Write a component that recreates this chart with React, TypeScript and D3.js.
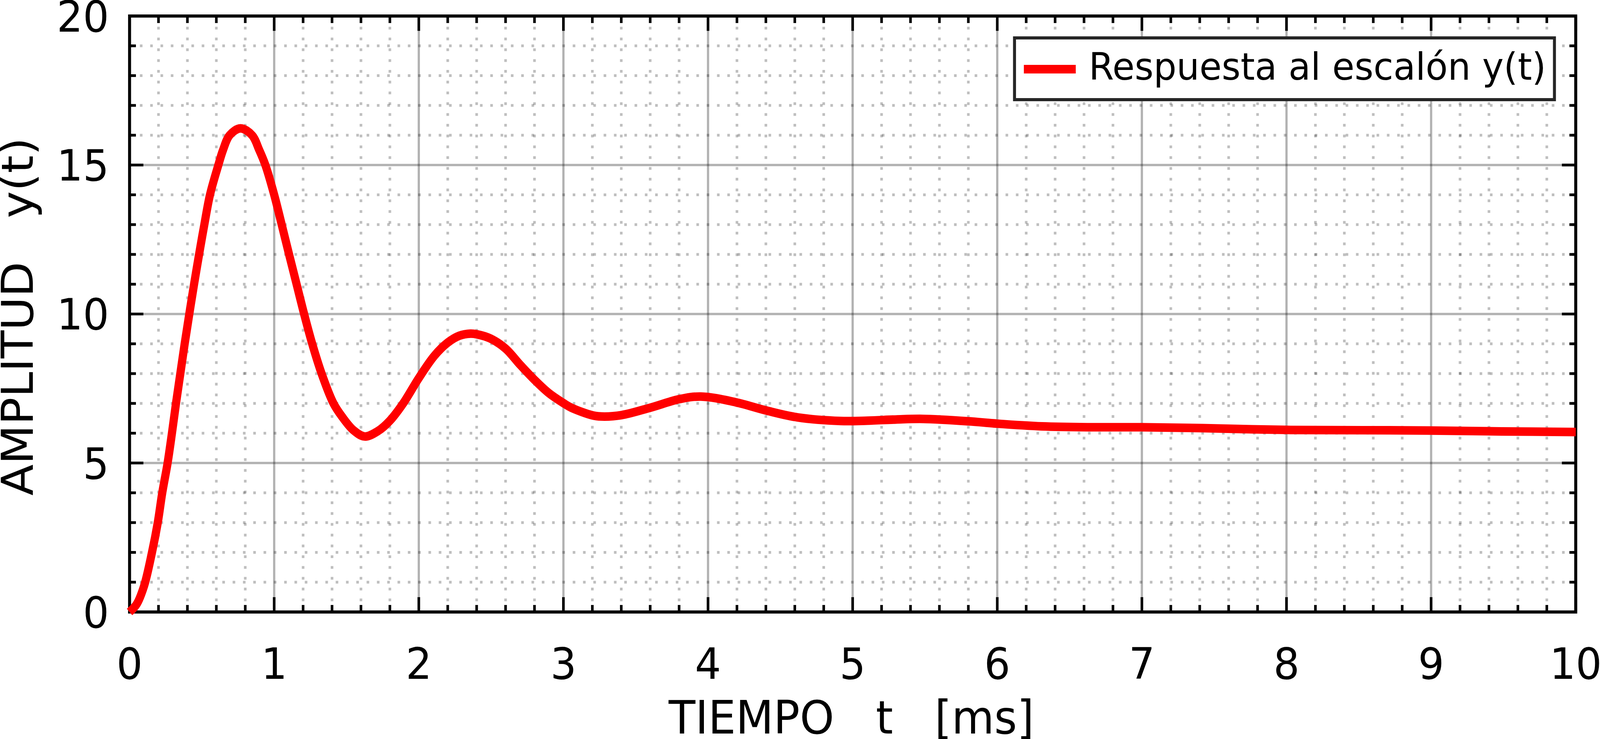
import React, { useEffect } from "react";
import * as d3 from "d3";

// ---- data ----
const tValues = [0, 0.05, 0.1, 0.155, 0.195, 0.226, 0.263, 0.293, 0.321, 0.351, 0.381, 0.413, 0.446, 0.486, 0.517, 0.556, 0.614, 0.646, 0.692, 0.767, 0.847, 0.897, 0.939, 1.0, 1.052, 1.103, 1.155, 1.207, 1.263, 1.328, 1.41, 1.47, 1.548, 1.626, 1.72, 1.8, 1.892, 2.0, 2.108, 2.2, 2.28, 2.357, 2.4, 2.494, 2.6, 2.7, 2.8, 2.898, 3.0, 3.053, 3.2, 3.265, 3.4, 3.6, 3.8, 3.95, 4.19, 4.404, 4.62, 4.917, 5.1, 5.3, 5.486, 5.8, 6.0, 6.31, 6.63, 7.0, 7.42, 8.0, 8.53, 9.0, 9.49, 10.0];
const yValues = [0, 0.27, 0.87, 2, 3, 4, 5, 6, 7, 8, 9, 10, 11, 12.15, 13, 14, 15, 15.5, 16, 16.23, 16, 15.5, 15, 14, 13, 12, 11, 10, 9, 8, 7, 6.55, 6.1, 5.89, 6.08, 6.42, 7.0, 7.85, 8.6, 9.04, 9.27, 9.34, 9.32, 9.18, 8.84, 8.3, 7.79, 7.35, 7.01, 6.86, 6.6, 6.56, 6.605, 6.855, 7.14, 7.23, 7.04, 6.76, 6.53, 6.41, 6.42, 6.46, 6.48, 6.4, 6.32, 6.23, 6.2, 6.2, 6.17, 6.11, 6.1, 6.09, 6.06, 6.04];

const xMajorTicks = [0, 1, 2, 3, 4, 5, 6, 7, 8, 9, 10];
const yMajorTicks = [0, 5, 10, 15, 20];
const xMinorStep = 0.2;
const yMinorStep = 1;

const legendLabel = "Respuesta al escalón y(t)";
const xTitle = "TIEMPO   t   [ms]";
const yTitle = "AMPLITUD   y(t)";

const W = 4285;
const H = 1891;
const FONT = "'DejaVu Sans', sans-serif";

export default function App() {
  useEffect(() => {
    document.body.style.margin = "0";
    document.body.style.overflow = "hidden";
  }, []);

  const x = d3.scaleLinear().domain([0, 10]).range([347, 4220]);
  const y = d3.scaleLinear().domain([0, 20]).range([1566, 41]);

  const xMinor = d3.range(0, 10 + 1e-9, xMinorStep).filter((v) => Math.abs(v - Math.round(v)) > 1e-6);
  const yMinor = d3.range(0, 20 + 1e-9, yMinorStep).filter((v) => Math.round(v) % 5 !== 0);

  const pts = tValues.map((t, i) => [t, yValues[i]] as [number, number]);
  const line = d3
    .line<[number, number]>()
    .x((d) => x(d[0]))
    .y((d) => y(d[1]))
    .curve(d3.curveCatmullRom.alpha(0.5));

  const [x0, x1] = x.range();
  const [yb, yt] = y.range();

  const gridMinor = "rgba(0,0,0,0.25)";
  const gridMajor = "rgba(0,0,0,0.3)";

  return (
    <svg
      viewBox={`0 0 ${W} ${H}`}
      preserveAspectRatio="none"
      style={{ position: "fixed", left: 0, top: 0, width: "100vw", height: "100vh", display: "block", background: "#fff" }}
    >
      <rect x={0} y={0} width={W} height={H} fill="#fff" />
      {/* minor grid */}
      {xMinor.map((v) => (
        <line key={"gx" + v} x1={x(v)} x2={x(v)} y1={yb} y2={yt} stroke={gridMinor} strokeWidth={7} strokeDasharray="7 20.6" />
      ))}
      {yMinor.map((v) => (
        <line key={"gy" + v} x1={x0} x2={x1} y1={y(v)} y2={y(v)} stroke={gridMinor} strokeWidth={7} strokeDasharray="7 20.6" />
      ))}
      {/* major grid */}
      {xMajorTicks.slice(1, -1).map((v) => (
        <line key={"Gx" + v} x1={x(v)} x2={x(v)} y1={yb} y2={yt} stroke={gridMajor} strokeWidth={6} />
      ))}
      {yMajorTicks.slice(1, -1).map((v) => (
        <line key={"Gy" + v} x1={x0} x2={x1} y1={y(v)} y2={y(v)} stroke={gridMajor} strokeWidth={6} />
      ))}
      {/* ticks */}
      <g stroke="#000" strokeWidth={7}>
        {xMinor.map((v) => (
          <g key={"tx" + v}>
            <line x1={x(v)} x2={x(v)} y1={yb} y2={yb - 18} />
            <line x1={x(v)} x2={x(v)} y1={yt} y2={yt + 18} />
          </g>
        ))}
        {xMajorTicks.map((v) => (
          <g key={"TX" + v}>
            <line x1={x(v)} x2={x(v)} y1={yb} y2={yb - 38} />
            <line x1={x(v)} x2={x(v)} y1={yt} y2={yt + 38} />
          </g>
        ))}
        {yMinor.map((v) => (
          <g key={"ty" + v}>
            <line x1={x0} x2={x0 + 17} y1={y(v)} y2={y(v)} />
            <line x1={x1} x2={x1 - 17} y1={y(v)} y2={y(v)} />
          </g>
        ))}
        {yMajorTicks.map((v) => (
          <g key={"TY" + v}>
            <line x1={x0} x2={x0 + 37} y1={y(v)} y2={y(v)} />
            <line x1={x1} x2={x1 - 37} y1={y(v)} y2={y(v)} />
          </g>
        ))}
      </g>
      {/* frame */}
      <rect x={x0} y={yt} width={x1 - x0} height={yb - yt} fill="none" stroke="#000" strokeWidth={8} />
      {/* curve */}
      <path d={line(pts) || ""} fill="none" stroke="#ff0000" strokeWidth={22} strokeLinejoin="round" />
      {/* tick labels */}
      <g fontFamily={FONT} fontSize={110} fill="#000">
        {xMajorTicks.map((v) => (
          <text key={"lx" + v} x={x(v)} y={1737} textAnchor="middle">
            {v}
          </text>
        ))}
        {yMajorTicks.map((v) => (
          <text key={"ly" + v} x={292} y={y(v) + 40} textAnchor="end">
            {v}
          </text>
        ))}
      </g>
      {/* axis titles */}
      <text x={2280} y={1877} textAnchor="middle" fontFamily={FONT} fontSize={117} style={{ whiteSpace: "pre" }}>
        {xTitle}
      </text>
      <text
        transform={`translate(88,810) rotate(-90)`}
        textAnchor="middle"
        fontFamily={FONT}
        fontSize={117}
        style={{ whiteSpace: "pre" }}
      >
        {yTitle}
      </text>
      {/* legend */}
      <rect x={2717} y={97} width={1446} height={158} fill="#fff" stroke="#262626" strokeWidth={8} />
      <line x1={2742} x2={2881} y1={177} y2={177} stroke="#ff0000" strokeWidth={22} />
      <text x={2916} y={204} fontFamily={FONT} fontSize={97} fill="#000">
        {legendLabel}
      </text>
    </svg>
  );
}
